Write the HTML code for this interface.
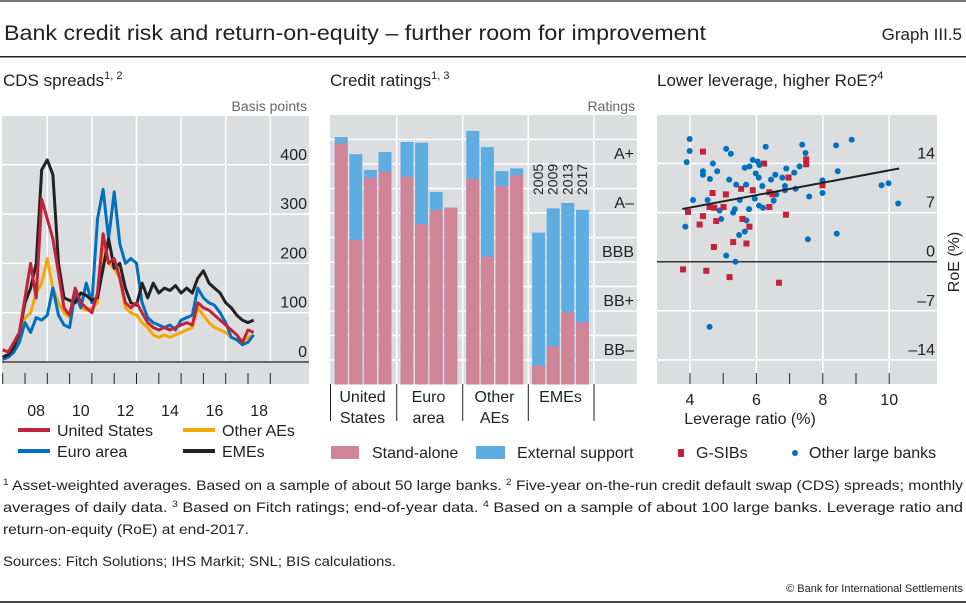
<!DOCTYPE html>
<html><head><meta charset="utf-8"><style>
html,body{margin:0;padding:0;background:#fff}
svg{display:block;font-family:"Liberation Sans",sans-serif}
</style></head><body>
<svg id="c" width="966" height="606" viewBox="0 0 966 606" xmlns="http://www.w3.org/2000/svg">
<rect x="0" y="0" width="966" height="2" fill="#777"/>
<text x="4" y="40" font-size="21" fill="#222" textLength="702" lengthAdjust="spacingAndGlyphs">Bank credit risk and return-on-equity – further room for improvement</text>
<text x="962" y="40" font-size="17" fill="#222" text-anchor="end">Graph III.5</text>
<rect x="0" y="56" width="966" height="1.5" fill="#222"/>

<text x="3" y="86" font-size="17" fill="#222">CDS spreads<tspan font-size="11" dy="-7">1, 2</tspan></text>
<text x="330" y="86" font-size="17" fill="#222">Credit ratings<tspan font-size="11" dy="-7">1, 3</tspan></text>
<text x="657" y="86" font-size="17" fill="#222">Lower leverage, higher RoE?<tspan font-size="11" dy="-7">4</tspan></text>
<text x="307" y="111" font-size="14" fill="#666" text-anchor="end">Basis points</text>
<text x="635" y="111" font-size="14" fill="#666" text-anchor="end">Ratings</text>

<g id="left"></g><g id="mid"></g><g id="right"></g>

<g>
<rect x="18" y="428" width="32" height="4" fill="#c0233a"/>
<text x="57" y="436" font-size="16" fill="#222">United States</text>
<rect x="183" y="428" width="32" height="4" fill="#f7a800"/>
<text x="222" y="436" font-size="16" fill="#222">Other AEs</text>
<rect x="18" y="449" width="32" height="4" fill="#0070c0"/>
<text x="57" y="457" font-size="16" fill="#222">Euro area</text>
<rect x="183" y="449" width="32" height="4" fill="#222"/>
<text x="222" y="457" font-size="16" fill="#222">EMEs</text>
</g>
<g>
<rect x="331" y="446" width="28" height="13" fill="#d08498"/>
<text x="372" y="458" font-size="16" fill="#222">Stand-alone</text>
<rect x="476" y="446" width="29" height="13" fill="#5dade2"/>
<text x="517" y="458" font-size="16" fill="#222">External support</text>
<rect x="678" y="449" width="6" height="8" fill="#c0233a"/>
<text x="696" y="458" font-size="16" fill="#222">G-SIBs</text>
<circle cx="795" cy="453" r="3" fill="#0070c0"/>
<text x="809" y="458" font-size="16" fill="#222">Other large banks</text>
</g>

<g font-size="14" fill="#222">
<text x="3" y="490" textLength="960" lengthAdjust="spacingAndGlyphs"><tspan font-size="9" dy="-5">1</tspan><tspan dy="5">  Asset-weighted averages. Based on a sample of about 50 large banks.    </tspan><tspan font-size="9" dy="-5">2</tspan><tspan dy="5">  Five-year on-the-run credit default swap (CDS) spreads; monthly</tspan></text>
<text x="3" y="512" textLength="960" lengthAdjust="spacingAndGlyphs">averages of daily data.   <tspan font-size="9" dy="-5">3</tspan><tspan dy="5">  Based on Fitch ratings; end-of-year data.   </tspan><tspan font-size="9" dy="-5">4</tspan><tspan dy="5">  Based on a sample of about 100 large banks. Leverage ratio and</tspan></text>
<text x="3" y="534" textLength="246" lengthAdjust="spacingAndGlyphs">return-on-equity (RoE) at end-2017.</text>
<text x="3" y="566" textLength="393" lengthAdjust="spacingAndGlyphs">Sources: Fitch Solutions; IHS Markit; SNL; BIS calculations.</text>
</g>
<text x="963" y="592" font-size="11" fill="#222" text-anchor="end">© Bank for International Settlements</text>
<rect x="0" y="601" width="966" height="2" fill="#444"/>
</svg>
<script>
// ---- CDS panel data (quarterly from 2007 Q1) ----
const cdsStart = 2007;
const cdsStep = 0.25;
const usValues = [25,20,40,60,130,200,130,330,290,250,180,110,95,150,120,110,100,140,260,200,210,170,120,110,120,100,80,70,65,70,65,70,75,80,75,120,110,105,95,85,75,65,55,40,65,60];
const euroValues = [5,10,20,40,80,60,90,85,95,150,95,75,70,140,110,160,120,290,350,250,345,240,200,210,200,120,90,80,75,70,75,65,85,90,95,150,130,120,115,100,80,50,45,35,40,55];
const otherAeValues = [10,15,25,50,90,100,140,160,210,150,120,100,90,140,110,105,110,120,240,200,190,170,110,100,95,80,70,55,50,55,50,55,60,65,70,110,95,80,70,65,60,50,45,40,50,55];
const emeValues = [10,15,30,60,120,150,200,390,410,380,200,130,125,120,140,135,125,130,190,250,190,200,150,120,115,160,130,160,140,150,145,155,140,150,140,170,185,160,150,140,120,110,95,85,80,85];
const cdsYTicks = [0,100,200,300,400];
const cdsXLabels = ["08","10","12","14","16","18"];
const cdsXLabelYears = [2008,2010,2012,2014,2016,2018];

// ---- Ratings panel data (notches above floor) ----
const ratingGroups = ["United States","Euro area","Other AEs","EMEs"];
const ratingYears = ["2005","2009","2013","2017"];
const standAlone = [[9.84,5.9,8.44,8.69],[8.48,6.55,7.12,7.22],[8.39,5.22,8.11,8.55],[0.77,1.56,2.95,2.54]];
const withSupport = [[10.1,9.4,8.76,9.49],[9.9,9.87,7.86,7.22],[10.35,9.69,8.71,8.82],[6.2,7.19,7.41,7.13]];
const ratingLabels = ["BB–","BB+","BBB","A–","A+"];
const ratingLabelLevels = [1,3,5,7,9];

// ---- Scatter data ----
const otherLev = [3.99,3.99,3.9,4.09,3.86,4.39,4.39,4.69,4.6,4.82,4.53,4.89,4.94,5.09,5.23,5.18,5.39,5.5,5.35,5.3,5.7,5.65,5.48,5.09,5.37,4.59,5.78,5.69,5.65,5.79,5.89,6.04,6.09,5.98,6.07,6.18,5.95,6.08,6.2,6.28,6.44,6.57,6.6,6.52,6.78,6.86,6.86,6.9,7.14,7.18,7.3,7.38,7.48,7.59,7.55,7.99,7.99,8.4,8.45,8.42,8.87,9.77,9.98,10.27];
const otherRoe = [17.5,15.8,14.2,8.8,5.0,12.9,12.4,14.0,11.8,12.9,8.8,7.3,6.1,16.1,15.4,11.7,11.0,8.8,7.5,7.0,5.9,4.3,3.8,0.86,0,-9.3,7.5,11.0,13.4,13.6,14.5,14.3,13.8,12.6,12.0,10.8,9.0,8.0,7.7,16.4,11.7,12.4,9.6,8.7,12.0,10.8,10.2,13.3,12.7,10.4,13.6,16.7,15.5,9.3,3.2,11.6,9.8,16.6,12.9,4.0,17.4,10.9,11.2,8.3];
const gsibLev = [4.39,4.68,5.08,3.94,4.39,4.29,4.59,4.73,4.79,5.01,4.72,5.3,5.54,5.58,5.79,5.7,5.89,6.23,6.39,6.49,6.39,6.89,6.97,7.5,7.5,7.99,3.79,4.49,5.19,6.68];
const gsibRoe = [15.7,9.8,9.6,7.1,6.5,5.3,7.8,7.7,5.8,7.8,2.1,2.8,10.4,6.1,5.0,2.6,10.2,14.0,9.9,9.6,7.8,6.7,12.0,14.6,13.9,10.9,-1.1,-1.3,-2.2,-3.0];
const fitLev = [3.77,10.3];
const fitRoe = [7.52,13.3];
const roeTicks = [-14,-7,0,7,14];
const levTicks = [4,6,8,10];

const NS = "http://www.w3.org/2000/svg";
function mk(parent, tag, attrs){const e=document.createElementNS(NS,tag);for(const k in attrs)e.setAttribute(k,attrs[k]);parent.appendChild(e);return e;}
const GRAY="#dcdddf";

// ===== Left panel =====
(function(){
 const g=document.getElementById('left');
 
 
 const xL=t=>2.7+(t-2007)*22.3, yL=v=>362-v*0.493;
 const bg=mk(g,'rect',{x:2,y:116,width:307,height:268,fill:GRAY});
 
 
 for(let yr=2009;yr<=2019;yr+=2){mk(g,'line',{x1:xL(yr),x2:xL(yr),y1:116,y2:362,stroke:'#fff','stroke-width':1.5});}
 cdsYTicks.forEach(v=>{
  if(v>0) mk(g,'line',{x1:2,x2:309,y1:yL(v),y2:yL(v),stroke:'#fff','stroke-width':1.5});
  const t=mk(g,'text',{x:307,y:yL(v)-5,'font-size':16,fill:'#222','text-anchor':'end'});t.textContent=v;
  
  
 });
 mk(g,'line',{x1:2,x2:309,y1:yL(0),y2:yL(0),stroke:'#222','stroke-width':1.3});
 for(let yr=2007;yr<=2019;yr++){mk(g,'line',{x1:xL(yr),x2:xL(yr),y1:373,y2:384,stroke:'#222','stroke-width':1});}
 cdsXLabels.forEach((l,i)=>{const t=mk(g,'text',{x:xL(cdsXLabelYears[i]+0.5),y:416,'font-size':16,fill:'#222','text-anchor':'middle'});t.textContent=l;
  
  });
 const series=[[otherAeValues,'#f7a800','line-other-aes'],[euroValues,'#0070c0','line-euro-area'],[emeValues,'#222','line-emes'],[usValues,'#c0233a','line-united-states']];
 series.forEach(([vals,col,name])=>{
  const d=vals.map((v,i)=>(i?'L':'M')+xL(cdsStart+i*cdsStep).toFixed(1)+','+yL(v).toFixed(1)).join(' ');
  const p=mk(g,'path',{d:d,fill:'none',stroke:col,'stroke-width':3,'stroke-linejoin':'round'});
  
  
 });
})();

// ===== Middle panel =====
(function(){
 const g=document.getElementById('mid');
 
 
 const yM=v=>384.5-v*24.5;
 const bg=mk(g,'rect',{x:330,y:115,width:307,height:269,fill:GRAY});
 
 
 for(let v=1;v<=10;v++) mk(g,'line',{x1:330,x2:637,y1:yM(v),y2:yM(v),stroke:'#fff','stroke-width':1.5});
 [396.7,462.7,528.3,594].forEach(x=>mk(g,'line',{x1:x,x2:x,y1:115,y2:384,stroke:'#fff','stroke-width':1.5}));
 ratingLabels.forEach((l,i)=>{const t=mk(g,'text',{x:634,y:yM(ratingLabelLevels[i])-5,'font-size':16,fill:'#222','text-anchor':'end'});t.textContent=l;
  
  });
 ratingGroups.forEach((grp,gi)=>{
  ratingYears.forEach((yr,bi)=>{
   const x=334.7+gi*65.8+bi*14.6;
   const b=mk(g,'rect',{x:x,y:yM(withSupport[gi][bi]),width:13,height:yM(0)-yM(withSupport[gi][bi]),fill:'#5dade2'});
   
   
   const a=mk(g,'rect',{x:x,y:yM(standAlone[gi][bi]),width:13,height:yM(0)-yM(standAlone[gi][bi]),fill:'#d08498'});
   
   
   if(gi===3){const t=mk(g,'text',{x:0,y:0,'font-size':14,fill:'#222',transform:`translate(${x+11},195) rotate(-90)`});t.textContent=yr;
    
    }
  });
  const cx=330+gi*66+33;
  const parts=grp==="United States"?["United","States"]:grp==="Euro area"?["Euro","area"]:grp==="Other AEs"?["Other","AEs"]:["EMEs"];
  parts.forEach((p,k)=>{const t=mk(g,'text',{x:cx-0.5,y:402+k*21,'font-size':16,fill:'#222','text-anchor':'middle'});t.textContent=p;
   
   });
 });
 [330.5,396.7,462.7,528.3,594].forEach(x=>mk(g,'line',{x1:x,x2:x,y1:384,y2:421,stroke:'#222','stroke-width':1}));
})();

// ===== Right panel =====
(function(){
 const g=document.getElementById('right');
 
 
 const xR=v=>690+(v-4)*33.2, yR=v=>261.7-v*7.01;
 const bg=mk(g,'rect',{x:657,y:115,width:280,height:269,fill:GRAY});
 
 
 levTicks.forEach(v=>mk(g,'line',{x1:xR(v),x2:xR(v),y1:115,y2:384,stroke:'#fff','stroke-width':1.5}));
 roeTicks.forEach(v=>{
  if(v!==0) mk(g,'line',{x1:657,x2:937,y1:yR(v),y2:yR(v),stroke:'#fff','stroke-width':1.5});
  const t=mk(g,'text',{x:935,y:yR(v)-5,'font-size':16,fill:'#222','text-anchor':'end'});t.textContent=v<0?'–'+(-v):v;
  
  
 });
 mk(g,'line',{x1:657,x2:937,y1:yR(0),y2:yR(0),stroke:'#333','stroke-width':1.5});
 for(let v=4;v<=10;v++) mk(g,'line',{x1:xR(v),x2:xR(v),y1:373,y2:384,stroke:'#222','stroke-width':1});
 levTicks.forEach(v=>{const t=mk(g,'text',{x:xR(v),y:405,'font-size':16,fill:'#222','text-anchor':'middle'});t.textContent=v;
  
  });
 const xt=mk(g,'text',{x:750,y:424,'font-size':16,fill:'#222','text-anchor':'middle'});xt.textContent='Leverage ratio (%)';
 
 
 const yt=mk(g,'text',{x:0,y:0,'font-size':16,fill:'#222','text-anchor':'middle',transform:'translate(959,262) rotate(-90)'});yt.textContent='RoE (%)';
 
 
 otherLev.forEach((v,i)=>{const c=mk(g,'circle',{cx:xR(v),cy:yR(otherRoe[i]),r:3,fill:'#0070c0'});
  
  });
 gsibLev.forEach((v,i)=>{const r=mk(g,'rect',{x:xR(v)-3,y:yR(gsibRoe[i])-3,width:6,height:6,fill:'#c0233a'});
  
  });
 const fl=mk(g,'line',{x1:xR(fitLev[0]),y1:yR(fitRoe[0]),x2:xR(fitLev[1]),y2:yR(fitRoe[1]),stroke:'#222','stroke-width':2});
 
 
})();
</script>
</body></html>
